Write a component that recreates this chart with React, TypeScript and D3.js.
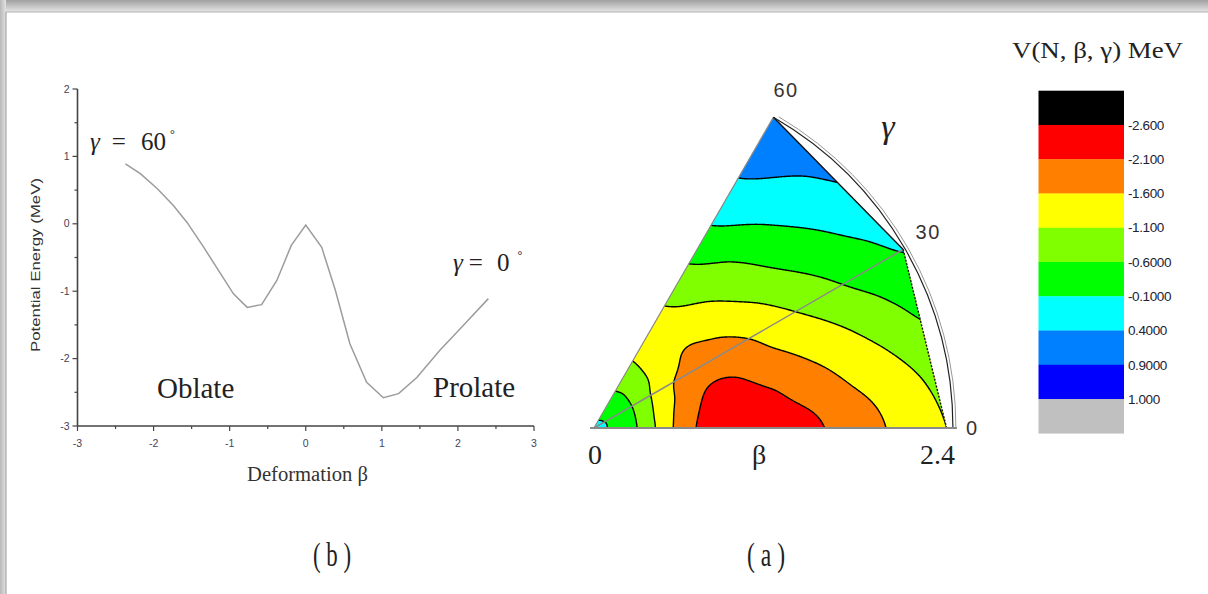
import React, { useMemo } from "react";
import * as d3 from "d3";

const W = 1208;
const H = 594;

// ---------- Panel (b): potential energy curve ----------
const BETA_CURVE = [-2.37, -2.17, -1.95, -1.74, -1.56, -1.34, -1.12, -0.95, -0.77, -0.58, -0.38, -0.19, 0.0, 0.21, 0.39, 0.58, 0.8, 1.02, 1.22, 1.46, 1.76, 2.07, 2.4];
const ENERGY_CURVE = [0.89, 0.74, 0.52, 0.27, 0.02, -0.35, -0.74, -1.04, -1.24, -1.2, -0.84, -0.32, -0.02, -0.35, -0.99, -1.78, -2.35, -2.58, -2.52, -2.28, -1.88, -1.51, -1.11];
const X_TICKS = [-3, -2, -1, 0, 1, 2, 3];
const X_MINOR = [-2.5, -1.5, -0.5, 0.5, 1.5, 2.5];
const Y_TICKS = [-3, -2, -1, 0, 1, 2];
const Y_MINOR = [-2.5, -1.5, -0.5, 0.5, 1.5];

// ---------- Panel (a): V(beta, gamma) grid ----------
const GRID_BETA = [0, 0.2, 0.4, 0.6, 0.8, 1.0, 1.2, 1.4, 1.6, 1.8, 2.0, 2.2, 2.4];
const GRID_GAMMA = [0, 10, 20, 30, 40, 50, 60];
const V_G0 = [-0.02, -0.3, -1.05, -1.85, -2.35, -2.57, -2.52, -2.33, -2.03, -1.83, -1.55, -1.31, -1.08];
const V_G10 = [-0.02, -0.3, -1.06, -1.78, -2.25, -2.4, -2.22, -1.95, -1.75, -1.53, -1.32, -1.09, -0.87];
const V_G20 = [-0.02, -0.3, -1.03, -1.66, -2.08, -2.1, -1.83, -1.64, -1.43, -1.19, -0.94, -0.68, -0.45];
const V_G30 = [-0.02, -0.31, -0.97, -1.56, -1.8, -1.82, -1.6, -1.33, -1.05, -0.78, -0.51, -0.3, -0.08];
const V_G40 = [-0.02, -0.33, -0.9, -1.35, -1.62, -1.5, -1.25, -0.99, -0.68, -0.41, -0.16, 0.08, 0.3];
const V_G50 = [-0.02, -0.35, -0.86, -1.27, -1.38, -1.2, -0.98, -0.69, -0.37, -0.08, 0.17, 0.39, 0.6];
const V_G60 = [-0.02, -0.38, -0.88, -1.2, -1.25, -1.03, -0.73, -0.38, -0.06, 0.22, 0.47, 0.68, 0.86];

const LEVELS = [-2.6, -2.1, -1.6, -1.1, -0.6, -0.1, 0.4, 0.9, 1.0];
const LEVEL_LABELS = ["-2.600", "-2.100", "-1.600", "-1.100", "-0.6000", "-0.1000", "0.4000", "0.9000", "1.000"];
const BAND_COLORS = ["#000000", "#ff0000", "#ff8000", "#ffff00", "#80ff00", "#00ff00", "#00ffff", "#0080ff", "#0000ff", "#c0c0c0"];
const GAMMA_TICKS = [60, 30, 0];
const GAMMA_TICK_LABELS = ["60", "30", "0"];

// ---------- geometry ----------
const xL = d3.scaleLinear().domain([-3, 3]).range([77.5, 534]);
const yL = d3.scaleLinear().domain([-3, 2]).range([426, 89]);

const O: [number, number] = [594, 428];
const rScale = d3.scaleLinear().domain([0, 2.4]).range([0, 357]);
const gScale = d3.scaleLinear().domain([0, 60]).range([0, Math.PI / 3]);
function polar(b: number, g: number): [number, number] {
  const r = rScale(b);
  const a = gScale(g);
  return [O[0] + r * Math.cos(a), O[1] - r * Math.sin(a)];
}

const ROWS = [V_G0, V_G10, V_G20, V_G30, V_G40, V_G50, V_G60];
const bIndex = d3.scaleLinear().domain([GRID_BETA[0], GRID_BETA[GRID_BETA.length - 1]]).range([0, GRID_BETA.length - 1]).clamp(true);
const gIndex = d3.scaleLinear().domain([GRID_GAMMA[0], GRID_GAMMA[GRID_GAMMA.length - 1]]).range([0, GRID_GAMMA.length - 1]).clamp(true);

function cr(p0: number, p1: number, p2: number, p3: number, u: number) {
  return 0.5 * (2 * p1 + (-p0 + p2) * u + (2 * p0 - 5 * p1 + 4 * p2 - p3) * u * u + (-p0 + 3 * p1 - 3 * p2 + p3) * u * u * u);
}
function sample1(arr: number[], t: number) {
  const n = arr.length;
  let i = Math.floor(t);
  if (i > n - 2) i = n - 2;
  if (i < 0) i = 0;
  const u = t - i;
  return cr(arr[Math.max(i - 1, 0)], arr[i], arr[i + 1], arr[Math.min(i + 2, n - 1)], u);
}
function fieldAt(b: number, g: number) {
  const tb = bIndex(b);
  const tg = gIndex(g);
  const col = ROWS.map((row) => sample1(row, tb));
  return sample1(col, tg);
}

function computeContours() {
  const x0 = 586, y0 = 108, nx = 376, ny = 328;
  const values = new Float64Array(nx * ny);
  for (let j = 0; j < ny; j++) {
    for (let i = 0; i < nx; i++) {
      const px = x0 + i + 0.5, py = y0 + j + 0.5;
      const dx = px - O[0], dy = O[1] - py;
      const b = Math.min(2.4, Math.max(0, rScale.invert(Math.hypot(dx, dy))));
      let g = (Math.atan2(dy, dx) * 180) / Math.PI;
      g = Math.min(60, Math.max(0, g));
      values[i + j * nx] = fieldAt(b, g);
    }
  }
  const contours = d3.contours().size([nx, ny]).thresholds(LEVELS)(Array.from(values));
  const path = d3.geoPath(d3.geoIdentity().translate([x0, y0]));
  return contours.map((c) => ({ value: c.value, d: path(c) || "" }));
}

function GammaEq({ x, y, value, g1, g2, g3 }: { x: number; y: number; value: string; g1: number; g2: number; g3: number }) {
  return (
    <text x={x} y={y} fontFamily="Liberation Serif" fontSize={25} fill="#222">
      <tspan fontStyle="italic">γ</tspan>
      <tspan dx={g1}>=</tspan>
      <tspan dx={g2}>{value}</tspan>
      <tspan dx={g3} dy={-12} fontSize={12}>°</tspan>
    </text>
  );
}

export default function App() {
  const contours = useMemo(() => computeContours(), []);
  const line = d3.line<number>().x((_, i) => xL(BETA_CURVE[i])).y((v) => yL(v));
  const curveD = line(ENERGY_CURVE) || "";

  const v0 = polar(0, 0);
  const vA = polar(2.37, 0);
  const vB = polar(2.4, 30);
  const vC = polar(2.413, 60);
  const clipPts = [v0, vA, vB, vC].map((p) => p.join(",")).join(" ");

  const arcPath = d3.path();
  arcPath.arc(O[0], O[1], rScale(2.413), -Math.PI / 3, 0);
  const arcPath2 = d3.path();
  arcPath2.arc(O[0], O[1], rScale(2.433), -Math.PI / 3 + 0.012, 0);

  const legendY = d3.scaleLinear().domain([0, BAND_COLORS.length]).range([90.7, 433.3]);

  const gammaLabelPos = (g: number): [number, number] => {
    const p = polar(2.61, g);
    return g === 0 ? [p[0] - 10, p[1]] : [p[0] - 2, p[1] - 2];
  };

  return (
    <svg width={W} height={H} style={{ position: "absolute", left: 0, top: 0 }}>
      <defs>
        <linearGradient id="topShade" x1="0" y1="0" x2="0" y2="1">
          <stop offset="0" stopColor="#a0a0a0" />
          <stop offset="1" stopColor="#e6e6e6" />
        </linearGradient>
        <linearGradient id="leftShade" x1="0" y1="0" x2="1" y2="0">
          <stop offset="0" stopColor="#b8b8b8" />
          <stop offset="1" stopColor="#e2e2e2" />
        </linearGradient>
        <clipPath id="sector">
          <polygon points={clipPts} />
        </clipPath>
      </defs>
      <rect x={0} y={0} width={W} height={H} fill="#ffffff" />
      <rect x={0} y={0} width={W} height={12} fill="url(#topShade)" />
      <rect x={0} y={0} width={6} height={H} fill="url(#leftShade)" />
      <line x1={6} y1={12} x2={6} y2={H} stroke="#9a9a9a" strokeWidth={1} />
      <line x1={6} y1={12} x2={W} y2={12} stroke="#b0b0b0" strokeWidth={1} />

      {/* ---------- Panel (b) ---------- */}
      <g>
        <line x1={xL(-3)} y1={yL(-3)} x2={xL(-3)} y2={yL(2)} stroke="#444" strokeWidth={1.6} />
        <line x1={xL(-3)} y1={yL(-3)} x2={xL(3)} y2={yL(-3)} stroke="#444" strokeWidth={1.6} />
        {Y_TICKS.map((t) => (
          <g key={"yt" + t}>
            <line x1={xL(-3) - 5} x2={xL(-3)} y1={yL(t)} y2={yL(t)} stroke="#444" strokeWidth={1.2} />
            <text x={xL(-3) - 8} y={yL(t)} dy="0.35em" textAnchor="end" fontFamily="Liberation Sans" fontSize={10.5} fill="#445">{t}</text>
          </g>
        ))}
        {Y_MINOR.map((t) => (
          <line key={"ym" + t} x1={xL(-3) - 3} x2={xL(-3)} y1={yL(t)} y2={yL(t)} stroke="#444" strokeWidth={1.2} />
        ))}
        {X_TICKS.map((t) => (
          <g key={"xt" + t}>
            <line x1={xL(t)} x2={xL(t)} y1={yL(-3)} y2={yL(-3) + 5} stroke="#444" strokeWidth={1.2} />
            <text x={xL(t)} y={yL(-3) + 21} textAnchor="middle" fontFamily="Liberation Sans" fontSize={10.5} fill="#445">{t}</text>
          </g>
        ))}
        {X_MINOR.map((t) => (
          <line key={"xm" + t} x1={xL(t)} x2={xL(t)} y1={yL(-3)} y2={yL(-3) + 3} stroke="#444" strokeWidth={1.2} />
        ))}
        <text transform="translate(40,265) rotate(-90)" textAnchor="middle" fontFamily="Liberation Sans" fontSize={12.5} fill="#333" textLength={174} lengthAdjust="spacingAndGlyphs">Potential Energy (MeV)</text>
        <path d={curveD} fill="none" stroke="#9c9c9c" strokeWidth={1.5} />
        <GammaEq x={90} y={150} value="60" g1={12} g2={15} g3={4} />
        <GammaEq x={453} y={271} value="0" g1={6} g2={14} g3={8} />
        <text x={157} y={398} fontFamily="Liberation Serif" fontSize={29} fill="#222">Oblate</text>
        <text x={433} y={397} fontFamily="Liberation Serif" fontSize={29} fill="#222">Prolate</text>
        <text x={247} y={481} fontFamily="Liberation Serif" fontSize={20} fill="#333" textLength={121} lengthAdjust="spacingAndGlyphs">Deformation β</text>
      </g>

      {/* ---------- Panel (a) ---------- */}
      <g>
        <g clipPath="url(#sector)">
          <polygon points={clipPts} fill={BAND_COLORS[0]} />
          {contours.map((c, k) => (
            <path key={"f" + k} d={c.d} fill={BAND_COLORS[k + 1]} stroke="none" />
          ))}
          {contours.map((c, k) => (
            <path key={"s" + k} d={c.d} fill="none" stroke="#000" strokeWidth={1.4} />
          ))}
        </g>
        <line x1={v0[0]} y1={v0[1]} x2={vB[0]} y2={vB[1]} stroke="#8a8a8a" strokeWidth={1.5} />
        <line x1={v0[0]} y1={v0[1]} x2={vC[0]} y2={vC[1]} stroke="#8a8a8a" strokeWidth={1.2} />
        <line x1={vC[0]} y1={vC[1]} x2={vB[0]} y2={vB[1]} stroke="#111" strokeWidth={1.4} />
        <line x1={vB[0]} y1={vB[1]} x2={vA[0]} y2={vA[1]} stroke="#111" strokeWidth={1.4} strokeDasharray="2,1.5" />
        <path d={arcPath.toString()} fill="none" stroke="#222" strokeWidth={1.2} />
        <path d={arcPath2.toString()} fill="none" stroke="#999" strokeWidth={1} />
        <line x1={O[0] - 4} y1={O[1]} x2={polar(2.44, 0)[0]} y2={O[1]} stroke="#8a8a8a" strokeWidth={2} />
        {GAMMA_TICKS.map((g, i) => {
          const p = gammaLabelPos(g);
          return (
            <text key={"gt" + g} x={p[0]} y={p[1]} dy="0.35em" textAnchor="middle" fontFamily="Liberation Sans" fontSize={20} letterSpacing={1.5} fill="#3a3330">{GAMMA_TICK_LABELS[i]}</text>
          );
        })}
        <text x={888} y={138} textAnchor="middle" fontFamily="Liberation Serif" fontStyle="italic" fontSize={34} fill="#222">γ</text>
        <text x={rScale(0) + O[0] + 1} y={464} textAnchor="middle" fontFamily="Liberation Serif" fontSize={28} fill="#222">0</text>
        <text x={rScale(1.11) + O[0]} y={464} textAnchor="middle" fontFamily="Liberation Serif" fontSize={28} fill="#222">β</text>
        <text x={rScale(2.4) + O[0] + 4} y={464} textAnchor="end" fontFamily="Liberation Serif" fontSize={28} fill="#222">2.4</text>
      </g>

      {/* ---------- Legend ---------- */}
      <g>
        <text x={1012} y={58} fontFamily="Liberation Serif" fontSize={23} fill="#222" textLength={171} lengthAdjust="spacingAndGlyphs">V(N, β, γ) MeV</text>
        {BAND_COLORS.map((c, k) => (
          <rect key={"lb" + k} x={1038.5} width={85.5} y={legendY(k)} height={legendY(k + 1) - legendY(k) + 0.3} fill={c} />
        ))}
        {LEVEL_LABELS.map((lab, k) => (
          <text key={"ll" + k} x={1128} y={legendY(k + 1)} dy="0.35em" fontFamily="Liberation Sans" fontSize={13.5} letterSpacing={-0.4} fill="#223">{lab}</text>
        ))}
      </g>

      {/* ---------- Panel captions ---------- */}
      <text x={332} y={566} textAnchor="middle" fontFamily="Liberation Serif" fontSize={34} fill="#222" textLength={38} lengthAdjust="spacingAndGlyphs">( b )</text>
      <text x={766} y={566} textAnchor="middle" fontFamily="Liberation Serif" fontSize={34} fill="#222" textLength={38} lengthAdjust="spacingAndGlyphs">( a )</text>
    </svg>
  );
}
